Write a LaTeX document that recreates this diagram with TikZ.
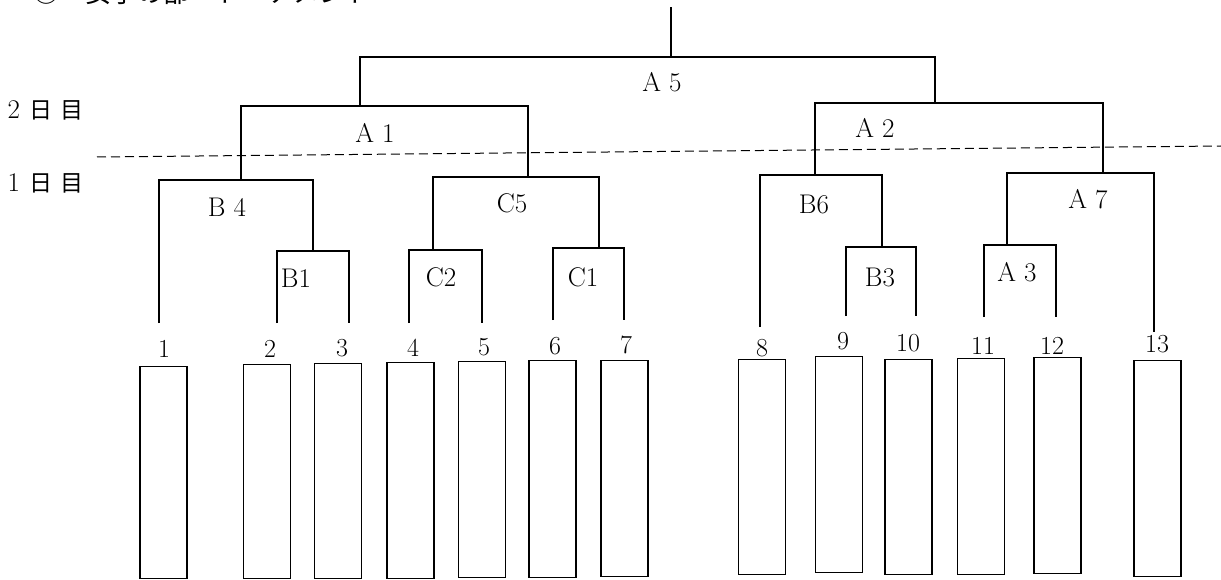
\documentclass[tikz,border=0pt]{standalone}
\usepackage{fontspec}
\newfontfamily\cjk{Noto Sans CJK JP}
\begin{document}
\begin{tikzpicture}[x=1pt, y=-1pt, line width=1.1pt,
    every node/.style={inner sep=0pt},
    lbl/.style={font=\fontsize{27}{27}\selectfont},
    num/.style={font=\fontsize{26}{26}\selectfont},
    slot/.style={draw, line width=1.1pt, minimum width=47pt, anchor=north}]
    \clip (0,0) rectangle (1221,580);

    % Heading, only its lower edge is inside the picture
    \node[anchor=base west, font=\cjk\fontsize{26}{26}\selectfont] (title) at (33,3) {○　女子の部　トーナメント};

    % Day labels and the dashed line between the days
    \node[anchor=west, font=\fontsize{27}{27}\selectfont] (day2) at (7,110) {2\hspace{10pt}{\cjk\fontsize{23}{23}\selectfont 日\hspace{8pt}目}};
    \node[anchor=west, font=\fontsize{27}{27}\selectfont] (day1) at (7,183) {1\hspace{10pt}{\cjk\fontsize{23}{23}\selectfont 日\hspace{8pt}目}};
    \coordinate (dl) at (97,157);
    \coordinate (dr) at (1221,146);
    \draw[line width=1pt, dash pattern=on 9pt off 5pt] (dl) -- (dr);

    % Entry slots
    \foreach \i/\x/\t/\b in {1/163.5/366/578, 2/267/364/578, 3/338/363/578,
        4/410.5/362/578, 5/482/361/577, 6/552.5/360/577, 7/624.5/360/576,
        8/762/359/574, 9/839/356/572, 10/908.5/359/574, 11/981/358/574,
        12/1057.5/357/573, 13/1157.5/360/576}
        \node[slot, minimum height={(\b-\t)*1pt}] (p\i) at (\x,\t) {};

    % Entry numbers
    \foreach \i/\x/\y in {1/164/349, 2/270/349, 3/342/348, 4/413/348,
        5/484/347, 6/555/346, 7/626/345, 8/762/348, 9/843/341,
        10/908/343, 11/983/346, 12/1052/346, 13/1157/344}
        \node[num] (n\i) at (\x,\y) {\i};

    % Lower ends of the bracket legs
    \foreach \i/\x/\y in {1/159/323, 2/277/323, 3/349/323, 4/409/323,
        5/482/323, 6/553/320, 7/624/320, 8/760/327, 9/846/316,
        10/916/316, 11/984/317, 12/1056/317, 13/1154/332}
        \coordinate (leg\i) at (\x,\y);

    % Match points (stem on the top line of each bracket)
    \coordinate (mB1) at (313,251);
    \coordinate (mC2) at (433,250);
    \coordinate (mC1) at (599,248);
    \coordinate (mB3) at (882,247);
    \coordinate (mA3) at (1007,245);
    \coordinate (mB4) at (241,180);
    \coordinate (mC5) at (528,177);
    \coordinate (mB6) at (815,175);
    \coordinate (mA7) at (1103,173);
    \coordinate (mA1) at (360,106);
    \coordinate (mA2) at (935,103);
    \coordinate (mA5) at (671,57);
    \coordinate (win) at (671,7);

    % First round
    \draw (leg2) |- (mB1) -| (leg3);
    \draw (leg4) |- (mC2) -| (leg5);
    \draw (leg6) |- (mC1) -| (leg7);
    \draw (leg9) |- (mB3) -| (leg10);
    \draw (leg11) |- (mA3) -| (leg12);

    % Second round
    \draw (leg1) |- (mB4) -| (mB1);
    \draw (mC2) |- (mC5) -| (mC1);
    \draw (leg8) |- (mB6) -| (mB3);
    \draw (mA3) |- (mA7) -| (leg13);

    % Semifinals and final
    \draw (mB4) |- (mA1) -| (mC5);
    \draw (mB6) |- (mA2) -| (mA7);
    \draw (mA1) |- (mA5) -| (mA2);
    \draw (mA5) -- (win);

    % Match labels
    \node[lbl] (tA5) at (662,82) {A 5};
    \node[lbl] (tA1) at (375,133) {A 1};
    \node[lbl] (tA2) at (875,128) {A 2};
    \node[lbl] (tB4) at (227,207) {B 4};
    \node[lbl] (tC5) at (512,203) {C5};
    \node[lbl] (tB1) at (296,278) {B1};
    \node[lbl] (tC2) at (441,277) {C2};
    \node[lbl] (tC1) at (583,277) {C1};
    \node[lbl] (tB6) at (814,204) {B6};
    \node[lbl] (tB3) at (880,277) {B3};
    \node[lbl] (tA7) at (1088,199) {A 7};
    \node[lbl] (tA3) at (1017,272) {A 3};
\end{tikzpicture}
\end{document}
